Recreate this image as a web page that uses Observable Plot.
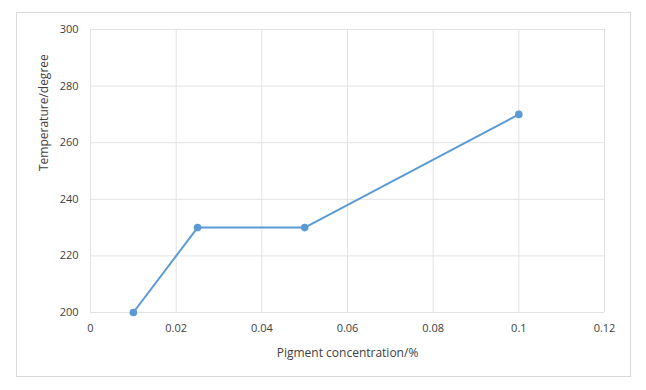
<!DOCTYPE html>
<html><head><meta charset="utf-8">
<script src="https://cdn.jsdelivr.net/npm/d3@7"></script>
<script src="https://cdn.jsdelivr.net/npm/@observablehq/plot@0.6"></script>
<style>
body{margin:0;background:#fff;}
#wrap{position:relative;width:646px;height:390px;}
#border{position:absolute;left:16px;top:12px;width:615px;height:365px;border:1px solid #d9d9d9;box-sizing:border-box;pointer-events:none;}
svg{position:absolute;left:0;top:0;}
</style></head><body>
<div id="wrap"><div id="border"></div></div>
<script>
const concentration = [0.01, 0.025, 0.05, 0.1];
const temperature = [200, 230, 230, 270];
const xTicks = [0, 0.02, 0.04, 0.06, 0.08, 0.1, 0.12];
const yTicks = [200, 220, 240, 260, 280, 300];
const data = concentration.map((c, i) => ({x: c, y: temperature[i]}));
const color = "#5B9BD5";
const chart = Plot.plot({
  width: 646, height: 390,
  marginLeft: 90, marginRight: 42, marginTop: 29, marginBottom: 78,
  style: {fontFamily: "'Open Sans', sans-serif", fontSize: "11px", color: "#595959", background: "transparent"},
  x: {domain: [0, 0.12], ticks: xTicks, tickFormat: d => String(+d.toFixed(2)), tickSize: 0, tickPadding: 12, label: null},
  y: {domain: [200, 300], ticks: yTicks, tickSize: 0, tickPadding: 12, label: null},
  marks: [
    Plot.gridX(xTicks, {stroke: "#e3e3e3", strokeOpacity: 1}),
    Plot.gridY(yTicks, {stroke: "#e3e3e3", strokeOpacity: 1}),
    Plot.axisX({ticks: xTicks, tickSize: 0, tickPadding: 12, tickFormat: d => String(+d.toFixed(2)), label: null, fill: "#404040"}),
    Plot.axisY({ticks: yTicks, tickSize: 0, tickPadding: 12, label: null, fill: "#404040"}),
    Plot.line(data, {x: "x", y: "y", stroke: color, strokeWidth: 2}),
    Plot.dot(data, {x: "x", y: "y", fill: color, r: 3.8}),
    Plot.text(["Pigment concentration/%"], {frameAnchor: "bottom", dy: 44, fontSize: 12, fill: "#404040"}),
    Plot.text(["Temperature/degree"], {frameAnchor: "left", dx: -46, rotate: -90, fontSize: 12, fill: "#404040"})
  ]
});
document.getElementById("wrap").appendChild(chart);
</script>
</body></html>
